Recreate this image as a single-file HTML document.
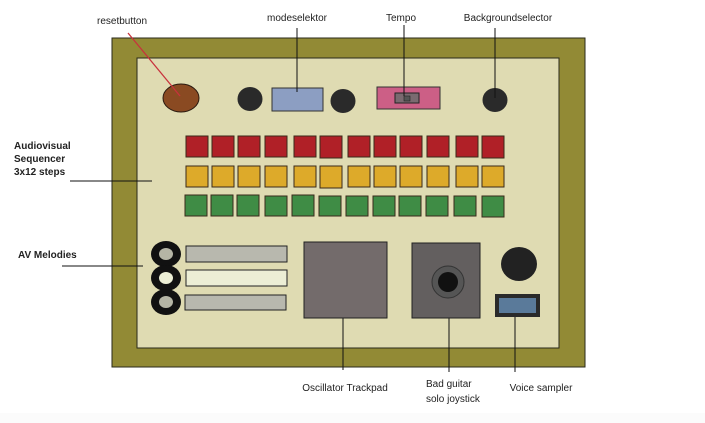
<!DOCTYPE html>
<html><head><meta charset="utf-8"><style>
html,body{margin:0;padding:0;background:#fff;}
svg{display:block;}
text{font-family:"Liberation Sans",sans-serif;font-size:10px;fill:#222;}
</style></head><body>
<svg width="705" height="423" viewBox="0 0 705 423" xmlns="http://www.w3.org/2000/svg">
<rect x="0" y="413" width="705" height="10" fill="#fbfbfb"/>
<rect x="112" y="38" width="473" height="329" fill="#928a35" stroke="#2a2a1a" stroke-width="1"/>
<rect x="137" y="58" width="422" height="290" fill="#dfdbb2" stroke="#2a2a1a" stroke-width="1"/>
<!-- top controls -->
<ellipse cx="181" cy="98" rx="18" ry="14" fill="#8a4a22" stroke="#2a1a10" stroke-width="1"/>
<line x1="128" y1="33" x2="180" y2="96" stroke="#c8323c" stroke-width="1.3"/>
<ellipse cx="250" cy="99" rx="12.5" ry="12" fill="#2a2a2a"/>
<rect x="272" y="88" width="51" height="23" fill="#8c9ec2" stroke="#333" stroke-width="1"/>
<ellipse cx="343" cy="101" rx="12.5" ry="12" fill="#2a2a2a"/>
<rect x="377" y="87" width="63" height="22" fill="#cc5f86" stroke="#333" stroke-width="1"/>
<rect x="395" y="93" width="24" height="10" fill="#7a6a70" stroke="#222" stroke-width="1"/>
<rect x="404" y="96" width="6" height="5" fill="#555" stroke="#222" stroke-width="0.6"/>
<ellipse cx="495" cy="100" rx="12.5" ry="12" fill="#2a2a2a"/>
<g stroke="#111" stroke-width="1">
<line x1="297" y1="28" x2="297" y2="92"/>
<line x1="404" y1="25" x2="404" y2="96"/>
<line x1="495" y1="28" x2="495" y2="98"/>
<line x1="70" y1="181" x2="152" y2="181"/>
<line x1="62" y1="266" x2="143" y2="266"/>
<line x1="343" y1="300" x2="343" y2="370"/>
<line x1="449" y1="308" x2="449" y2="372"/>
<line x1="515" y1="306" x2="515" y2="372"/>
</g>
<text x="97" y="24" font-size="9">resetbutton</text>
<text x="297" y="21" text-anchor="middle" font-size="9">modeselektor</text>
<text x="401" y="21" text-anchor="middle" font-size="9">Tempo</text>
<text x="508" y="21" text-anchor="middle" font-size="9">Backgroundselector</text>
<text x="14" y="149" font-weight="bold">Audiovisual</text>
<text x="14" y="162" font-weight="bold">Sequencer</text>
<text x="14" y="175" font-weight="bold">3x12 steps</text>
<text x="18" y="258" font-weight="bold">AV Melodies</text>
<text x="345" y="391" text-anchor="middle">Oscillator Trackpad</text>
<text x="426" y="387">Bad guitar</text>
<text x="426" y="402">solo joystick</text>
<text x="541" y="391" text-anchor="middle">Voice sampler</text>
<!-- sequencer -->
<g stroke="#3a2a1a" stroke-width="1">
<g fill="#b02027">
<rect x="186" y="136" width="22" height="21"/><rect x="212" y="136" width="22" height="21"/><rect x="238" y="136" width="22" height="21"/><rect x="265" y="136" width="22" height="21"/><rect x="294" y="136" width="22" height="21"/><rect x="320" y="136" width="22" height="22"/><rect x="348" y="136" width="22" height="21"/><rect x="374" y="136" width="22" height="21"/><rect x="400" y="136" width="22" height="21"/><rect x="427" y="136" width="22" height="21"/><rect x="456" y="136" width="22" height="21"/><rect x="482" y="136" width="22" height="22"/>
</g>
<g fill="#ddaa2a">
<rect x="186" y="166" width="22" height="21"/><rect x="212" y="166" width="22" height="21"/><rect x="238" y="166" width="22" height="21"/><rect x="265" y="166" width="22" height="21"/><rect x="294" y="166" width="22" height="21"/><rect x="320" y="166" width="22" height="22"/><rect x="348" y="166" width="22" height="21"/><rect x="374" y="166" width="22" height="21"/><rect x="400" y="166" width="22" height="21"/><rect x="427" y="166" width="22" height="21"/><rect x="456" y="166" width="22" height="21"/><rect x="482" y="166" width="22" height="21"/>
</g>
<g fill="#3f8c45">
<rect x="185" y="195" width="22" height="21"/><rect x="211" y="195" width="22" height="21"/><rect x="237" y="195" width="22" height="21"/><rect x="265" y="196" width="22" height="20"/><rect x="292" y="195" width="22" height="21"/><rect x="319" y="196" width="22" height="20"/><rect x="346" y="196" width="22" height="20"/><rect x="373" y="196" width="22" height="20"/><rect x="399" y="196" width="22" height="20"/><rect x="426" y="196" width="22" height="20"/><rect x="454" y="196" width="22" height="20"/><rect x="482" y="196" width="22" height="21"/>
</g>
</g>
<!-- melodies -->
<g fill="#111">
<ellipse cx="166" cy="254" rx="15" ry="13"/>
<ellipse cx="166" cy="278" rx="15" ry="13"/>
<ellipse cx="166" cy="302" rx="15" ry="13"/>
</g>
<ellipse cx="166" cy="254" rx="7" ry="6" fill="#b5b5a5"/>
<ellipse cx="166" cy="278" rx="7" ry="6" fill="#eceed5"/>
<ellipse cx="166" cy="302" rx="7" ry="6" fill="#b5b5a5"/>
<g stroke="#222" stroke-width="1">
<rect x="186" y="246" width="101" height="16" fill="#b8b8ae"/>
<rect x="186" y="270" width="101" height="16" fill="#eceed5"/>
<rect x="185" y="295" width="101" height="15" fill="#b8b8ae"/>
<rect x="304" y="242" width="83" height="76" fill="#736b6b"/>
<rect x="412" y="243" width="68" height="75" fill="#635f5f"/>
</g>
<circle cx="448" cy="282" r="16" fill="#555" stroke="#333"/>
<circle cx="448" cy="282" r="10" fill="#111"/>
<ellipse cx="519" cy="264" rx="18" ry="17" fill="#222"/>
<rect x="495" y="294" width="45" height="23" fill="#2a2a2a"/>
<rect x="499" y="298" width="37" height="15" fill="#5a7a9a"/>
</svg>
</body></html>
